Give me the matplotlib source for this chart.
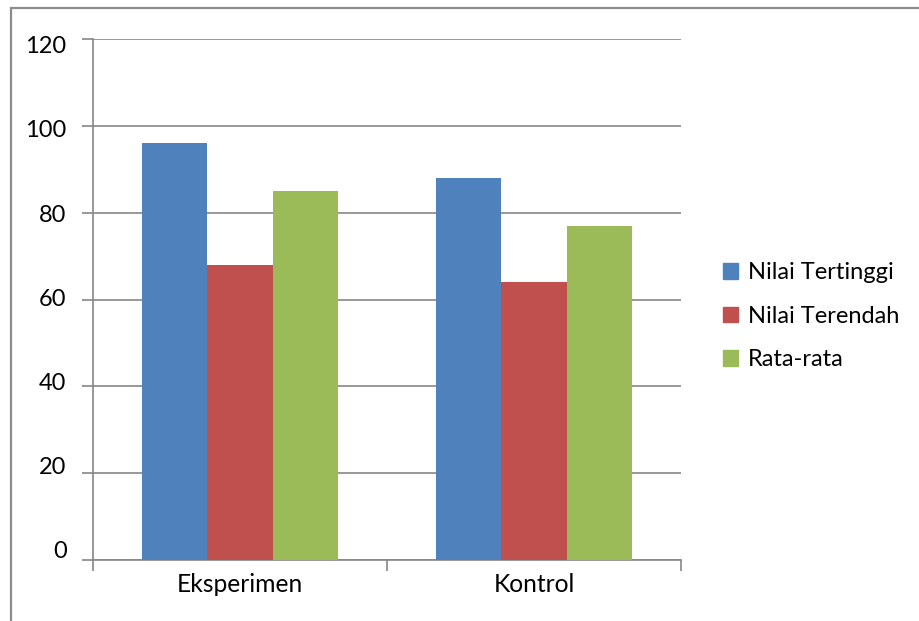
import matplotlib.pyplot as plt
from matplotlib.patches import Rectangle, Patch
from matplotlib.transforms import ScaledTranslation
import numpy as np

plt.rcParams['font.family'] = ['Lato', 'DejaVu Sans']

groups = ['Eksperimen', 'Kontrol']
series = ['Nilai Tertinggi', 'Nilai Terendah', 'Rata-rata']
tertinggi = [96, 88]
terendah = [68, 64]
rata_rata = [85, 77]
colors = ['#4F81BD', '#C0504D', '#9BBB59']
yticks = [0, 20, 40, 60, 80, 100, 120]

W, H = 919, 621
fig = plt.figure(figsize=(W / 100, H / 100), dpi=100)
ax = fig.add_axes([93 / W, 1 - 560 / H, (681 - 93) / W, (560 - 39) / H])

grid_c = '#868686'
centers = np.arange(len(groups)) + 0.5
bw = 0.223
for i, (vals, c) in enumerate(zip([tertinggi, terendah, rata_rata], colors)):
    ax.bar(centers + (i - 1) * bw, vals, width=bw, color=c, zorder=3)

ax.set_xlim(0, len(groups))
ax.set_ylim(0, 120)
ax.set_yticks(yticks)
ax.set_yticklabels([str(v) for v in yticks])
ax.yaxis.grid(True, color=grid_c, linewidth=1.2, zorder=0)
ax.set_axisbelow(True)

# category boundaries get the tick marks, labels sit in the middle
ax.set_xticks(np.arange(len(groups) + 1))
ax.set_xticklabels([])
ax.set_xticks(centers, minor=True)
ax.set_xticklabels(groups, minor=True)
ax.tick_params(axis='x', which='minor', length=0, pad=9, labelsize=17.7)
ax.tick_params(axis='x', which='major', length=8, width=1.2, color=grid_c)
ax.tick_params(axis='y', length=8, width=1.2, color=grid_c, pad=11, labelsize=17)

# y labels are packed slightly tighter than the gridlines
for v, lab in zip(yticks, ax.get_yticklabels()):
    dy = 10 - 0.13 * v
    lab.set_transform(lab.get_transform() + ScaledTranslation(0, dy / 100, fig.dpi_scale_trans))

for s in ['top', 'right']:
    ax.spines[s].set_visible(False)
for s in ['left', 'bottom']:
    ax.spines[s].set_color(grid_c)
    ax.spines[s].set_linewidth(1.2)

handles = [Patch(color=c) for c in colors]
fig.legend(handles, series, loc='upper left', bbox_to_anchor=(702 / W, 1 - 241 / H),
           frameon=False, fontsize=17, handlelength=0.64, handleheight=0.64,
           handletextpad=0.42, labelspacing=0.95)

# outer chart border
fig.add_artist(Rectangle((10.5 / W, -0.1), 1.2, 1 - 8 / H + 0.1, transform=fig.transFigure,
                         fill=False, edgecolor='#8C8C8C', linewidth=1.6))

fig.savefig('out.png', dpi=100)
